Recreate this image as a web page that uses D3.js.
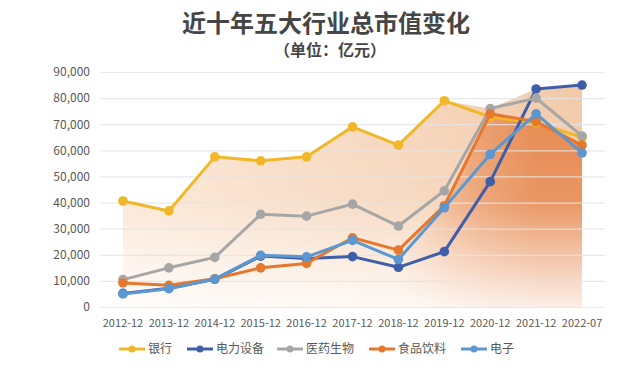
<!DOCTYPE html>
<html lang="zh">
<head>
<meta charset="UTF-8">
<script src="https://cdn.jsdelivr.net/npm/d3@7"></script>
<title>近十年五大行业总市值变化</title>
<style>
  body { margin: 0; background: #fff; }
  text { font-family: "Noto Sans CJK SC", "Noto Sans", sans-serif; }
</style>
</head>
<body>
<svg id="chart" width="640" height="375"></svg>
<script>
// categories
const years = ["2012-12","2013-12","2014-12","2015-12","2016-12","2017-12","2018-12","2019-12","2020-12","2021-12","2022-07"];
const yTicks = [0,10000,20000,30000,40000,50000,60000,70000,80000,90000];

// series values (亿元)
const bank     = [40600,36800,57500,56000,57500,69000,62000,79000,72800,70500,65000];
const power    = [5200,7200,10600,19500,18600,19300,15200,21200,48000,83500,85000];
const pharma   = [10500,15000,19000,35500,34800,39400,31000,44500,76000,80000,65500];
const food     = [9200,8300,10800,15000,16700,26500,21800,38800,74000,71000,62000];
const elec     = [5000,7000,10700,19800,19200,25500,18200,38000,58500,74000,59000];

const seriesNames = ["银行","电力设备","医药生物","食品饮料","电子"];
const seriesData = [bank, power, pharma, food, elec];
const colors = ["#F0B828","#3F5EA8","#A6A6A6","#E5772F","#5B97D0"];

const svg = d3.select("#chart");

const x = d3.scaleBand().domain(years).range([100, 605]);
const y = d3.scaleLinear().domain([0, 90000]).range([307, 72]);
const cx = d => x(d) + x.bandwidth() / 2;

// gradients
const defs = svg.append("defs");
const fade = defs.append("linearGradient").attr("id", "fade")
  .attr("gradientUnits", "userSpaceOnUse")
  .attr("x1", 0).attr("y1", y(90000)).attr("x2", 0).attr("y2", y(0));
fade.append("stop").attr("offset", 0).attr("stop-color", "#fff");
fade.append("stop").attr("offset", 0.55).attr("stop-color", "#ddd");
fade.append("stop").attr("offset", 1).attr("stop-color", "#222");
defs.append("mask").attr("id", "fadeMask")
  .append("rect").attr("x", 0).attr("y", 0).attr("width", 640).attr("height", 375)
  .attr("fill", "url(#fade)");

const light = defs.append("linearGradient").attr("id", "light")
  .attr("gradientUnits", "userSpaceOnUse")
  .attr("x1", cx(years[0])).attr("y1", 0).attr("x2", cx(years[10])).attr("y2", 0);
light.append("stop").attr("offset", 0).attr("stop-color", "#FBE6D4");
light.append("stop").attr("offset", 1).attr("stop-color", "#F2C9A8");

const dark = defs.append("linearGradient").attr("id", "dark")
  .attr("gradientUnits", "userSpaceOnUse")
  .attr("x1", cx(years[6])).attr("y1", 0).attr("x2", cx(years[9])).attr("y2", 0);
dark.append("stop").attr("offset", 0).attr("stop-color", "#E8844A").attr("stop-opacity", 0);
dark.append("stop").attr("offset", 0.6).attr("stop-color", "#E8884F").attr("stop-opacity", 0.75);
dark.append("stop").attr("offset", 1).attr("stop-color", "#E6864C").attr("stop-opacity", 1);

// background areas
const envelope = years.map((d, i) => ({ k: d, v: d3.max(seriesData, s => s[i]) }));
const area = d3.area().x(d => cx(d.k)).y0(y(0)).y1(d => y(d.v));
const areas = svg.append("g").attr("mask", "url(#fadeMask)");
areas.append("path").attr("d", area(envelope)).attr("fill", "url(#light)");
areas.append("path").attr("d", area(years.map((d, i) => ({ k: d, v: food[i] }))))
  .attr("fill", "url(#dark)");

// grid + y axis
const yAxis = d3.axisLeft(y).tickValues(yTicks).tickSize(0).tickPadding(0)
  .tickFormat(d3.format(","));
svg.append("g").attr("transform", "translate(90,0)").call(yAxis)
  .call(g => g.select(".domain").remove())
  .selectAll("text").attr("font-size", 12).attr("fill", "#595959")
  .attr("font-family", "'Noto Sans CJK SC', sans-serif");

svg.append("g").selectAll("line").data(yTicks).join("line")
  .attr("x1", 100).attr("x2", 605)
  .attr("y1", d => y(d) + 0.5).attr("y2", d => y(d) + 0.5)
  .attr("stroke", "#E4E4E4").attr("stroke-width", 1.2).attr("stroke-opacity", 0.85);

// x axis
const xAxis = d3.axisBottom(x).tickSize(0).tickPadding(0);
svg.append("g").attr("transform", "translate(0,319)").call(xAxis)
  .call(g => g.select(".domain").remove())
  .selectAll("text").attr("font-size", 11).attr("fill", "#595959")
  .attr("font-family", "'Noto Sans CJK SC', sans-serif");

// lines
const line = d3.line().x(d => cx(d.k)).y(d => y(d.v));
seriesData.forEach((s, si) => {
  const pts = years.map((d, i) => ({ k: d, v: s[i] }));
  const g = svg.append("g");
  g.append("path").attr("d", line(pts)).attr("fill", "none")
    .attr("stroke", colors[si]).attr("stroke-width", 3).attr("stroke-linejoin", "round");
  g.selectAll("circle").data(pts).join("circle")
    .attr("cx", d => cx(d.k)).attr("cy", d => y(d.v)).attr("r", 4.8)
    .attr("fill", colors[si]);
});

// legend
const legendX = [119, 187, 277, 369, 461];
const lg = svg.append("g").selectAll("g").data(seriesNames).join("g")
  .attr("transform", (d, i) => `translate(${legendX[i]},349)`);
lg.append("line").attr("x1", 0).attr("x2", 26).attr("y1", 0).attr("y2", 0)
  .attr("stroke", (d, i) => colors[i]).attr("stroke-width", 3);
lg.append("circle").attr("cx", 13).attr("cy", 0).attr("r", 3.5)
  .attr("fill", (d, i) => colors[i]);
lg.append("text").attr("x", 29).attr("y", 0).attr("dy", "0.36em")
  .attr("font-size", 12).attr("fill", "#595959").text(d => d);

// titles
svg.append("text").attr("x", 326).attr("y", 23).attr("dy", "0.36em")
  .attr("text-anchor", "middle").attr("font-size", 24).attr("font-weight", "bold")
  .attr("fill", "#454545").text("近十年五大行业总市值变化");
svg.append("text").attr("x", 330).attr("y", 50).attr("dy", "0.36em")
  .attr("text-anchor", "middle").attr("font-size", 16).attr("font-weight", "bold")
  .attr("fill", "#454545").text("（单位：亿元）");
</script>
</body>
</html>
